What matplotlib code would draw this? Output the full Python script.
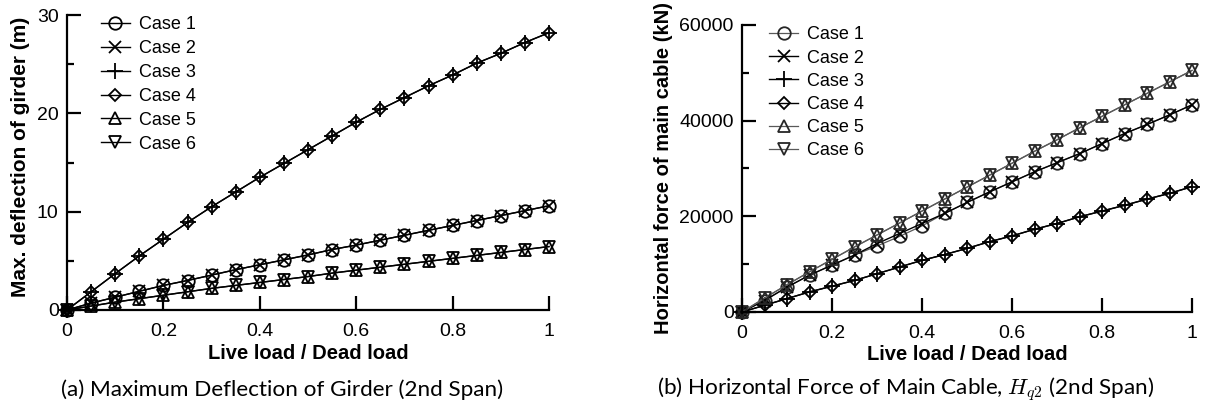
import matplotlib
matplotlib.use("Agg")
import matplotlib.pyplot as plt
from matplotlib.ticker import MultipleLocator

plt.rcParams['font.family'] = ['Liberation Sans', 'DejaVu Sans']
plt.rcParams['mathtext.fontset'] = 'cm'

# Live load / dead load ratio
load_ratio = [0.0, 0.05, 0.10, 0.15, 0.20, 0.25, 0.30, 0.35, 0.40, 0.45, 0.50,
              0.55, 0.60, 0.65, 0.70, 0.75, 0.80, 0.85, 0.90, 0.95, 1.00]

case_labels = ['Case 1', 'Case 2', 'Case 3', 'Case 4', 'Case 5', 'Case 6']

# (a) Maximum deflection of girder, 2nd span (m)
defl_case1 = [0, 0.7, 1.3, 1.9, 2.5, 3.0, 3.55, 4.1, 4.6, 5.1, 5.6,
              6.15, 6.6, 7.1, 7.6, 8.1, 8.6, 9.1, 9.6, 10.1, 10.6]
defl_case2 = [0, 0.7, 1.3, 1.9, 2.5, 3.0, 3.55, 4.1, 4.6, 5.1, 5.6,
              6.15, 6.6, 7.1, 7.6, 8.1, 8.6, 9.1, 9.6, 10.1, 10.6]
defl_case3 = [0, 1.85, 3.7, 5.5, 7.2, 8.9, 10.5, 12.0, 13.5, 14.9, 16.3,
              17.7, 19.1, 20.4, 21.6, 22.8, 23.9, 25.1, 26.1, 27.2, 28.2]
defl_case4 = [0, 1.85, 3.7, 5.5, 7.2, 8.9, 10.5, 12.0, 13.5, 14.9, 16.3,
              17.7, 19.1, 20.4, 21.6, 22.8, 23.9, 25.1, 26.1, 27.2, 28.2]
defl_case5 = [0, 0.4, 0.8, 1.15, 1.5, 1.85, 2.2, 2.5, 2.8, 3.1, 3.4,
              3.75, 4.05, 4.35, 4.65, 4.95, 5.25, 5.55, 5.85, 6.15, 6.45]
defl_case6 = [0, 0.4, 0.8, 1.15, 1.5, 1.85, 2.2, 2.5, 2.8, 3.1, 3.4,
              3.75, 4.05, 4.35, 4.65, 4.95, 5.25, 5.55, 5.85, 6.15, 6.45]

# (b) Horizontal force of main cable Hq2, 2nd span (kN)
force_case1 = [0, 2400, 5200, 7700, 9800, 11900, 13800, 15800, 18000, 20600, 22900,
               25100, 27200, 29300, 31200, 33100, 35200, 37300, 39200, 41200, 43300]
force_case2 = [0, 2400, 5200, 7700, 9800, 11900, 14300, 16400, 18500, 20600, 22900,
               25100, 27200, 29300, 31200, 33100, 35200, 37300, 39200, 41200, 43300]
force_case3 = [0, 1400, 2800, 4200, 5400, 6600, 8000, 9400, 10800, 12000, 13300,
               14700, 15900, 17300, 18500, 19900, 21100, 22300, 23600, 24800, 26200]
force_case4 = [0, 1400, 2800, 4200, 5400, 6600, 8000, 9400, 10800, 12000, 13300,
               14700, 15900, 17300, 18500, 19900, 21100, 22300, 23600, 24800, 26200]
force_case5 = [0, 2900, 5700, 8400, 11000, 13600, 16100, 18600, 21100, 23600, 26100,
               28600, 31100, 33600, 36000, 38500, 40900, 43300, 45700, 48100, 50500]
force_case6 = [0, 2900, 5700, 8400, 11000, 13600, 16100, 18600, 21100, 23600, 26100,
               28600, 31100, 33600, 36000, 38500, 40900, 43300, 45700, 48100, 50500]

markers = ['o', 'x', '+', 'D', '^', 'v']
marker_sizes = [9, 9, 11, 6.5, 9, 9]

fig = plt.figure(figsize=(12.07, 4.08), dpi=100)
ax1 = fig.add_axes([67 / 1207, 1 - 310 / 408, 482 / 1207, 295 / 408])
ax2 = fig.add_axes([742 / 1207, 1 - 312 / 408, 450 / 1207, 287 / 408])


def draw_panel(ax, series, line_colors, line_widths, edge_colors, spacing, anchor):
    for vals, lab, mk, ms, lc, lw, ec in zip(series, case_labels, markers, marker_sizes,
                                            line_colors, line_widths, edge_colors):
        ax.plot(load_ratio, vals, color=lc, lw=lw, marker=mk, ms=ms,
                mfc='none', mec=ec, mew=1.3, label=lab, clip_on=False)
    for side in ('top', 'right'):
        ax.spines[side].set_visible(False)
    for side in ('left', 'bottom'):
        ax.spines[side].set_linewidth(1.6)
    ax.set_xlim(0, 1)
    ax.set_xticks([0, 0.2, 0.4, 0.6, 0.8, 1.0])
    ax.set_xticklabels(['0', '0.2', '0.4', '0.6', '0.8', '1'])
    ax.tick_params(axis='x', direction='in', length=10, width=1.6, pad=9, labelsize=14)
    ax.tick_params(axis='y', which='major', direction='in', length=10, width=1.6, pad=6, labelsize=14)
    ax.tick_params(axis='y', which='minor', direction='in', length=5, width=1.6)
    ax.set_xlabel('Live load / Dead load', fontsize=14.5, fontweight='bold')
    ax.xaxis.set_label_coords(0.5, -0.115)
    ax.legend(loc='upper left', frameon=False, fontsize=13, handlelength=1.6,
              handletextpad=0.5, labelspacing=spacing, borderaxespad=0.0,
              bbox_to_anchor=anchor)


draw_panel(ax1, [defl_case1, defl_case2, defl_case3, defl_case4, defl_case5, defl_case6],
           ['k'] * 6, [1.0] * 6, ['k'] * 6, 0.38, (0.055, 1.02))
ax1.set_ylim(0, 30)
ax1.yaxis.set_major_locator(MultipleLocator(10))
ax1.yaxis.set_minor_locator(MultipleLocator(5))
ax1.set_ylabel('Max. deflection of girder (m)', fontsize=15, fontweight='bold')
ax1.yaxis.set_label_coords(-0.077, 0.52)

draw_panel(ax2, [force_case1, force_case2, force_case3, force_case4, force_case5, force_case6],
           ['0.35', 'k', 'k', 'k', '0.35', '0.35'],
           [0.9, 1.0, 1.0, 1.0, 0.9, 0.9],
           ['0.15', 'k', 'k', 'k', '0.15', '0.15'], 0.34, (0.045, 1.02))
ax2.set_ylim(0, 60000)
ax2.yaxis.set_major_locator(MultipleLocator(20000))
ax2.yaxis.set_minor_locator(MultipleLocator(10000))
ax2.set_ylabel('Horizontal force of main cable (kN)', fontsize=14.5, fontweight='bold')
ax2.yaxis.set_label_coords(-0.153, 0.5)

cap_font = ['Lato', 'DejaVu Sans']
fig.text(282 / 1207, 1 - 390 / 408, '(a) Maximum Deflection of Girder (2nd Span)',
         ha='center', va='center', fontsize=16.2, family=cap_font)
fig.text(906 / 1207, 1 - 390 / 408,
         r'(b) Horizontal Force of Main Cable, $H_{q2}$ (2nd Span)',
         ha='center', va='center', fontsize=16.2, family=cap_font)

fig.savefig('out.png', dpi=100)
